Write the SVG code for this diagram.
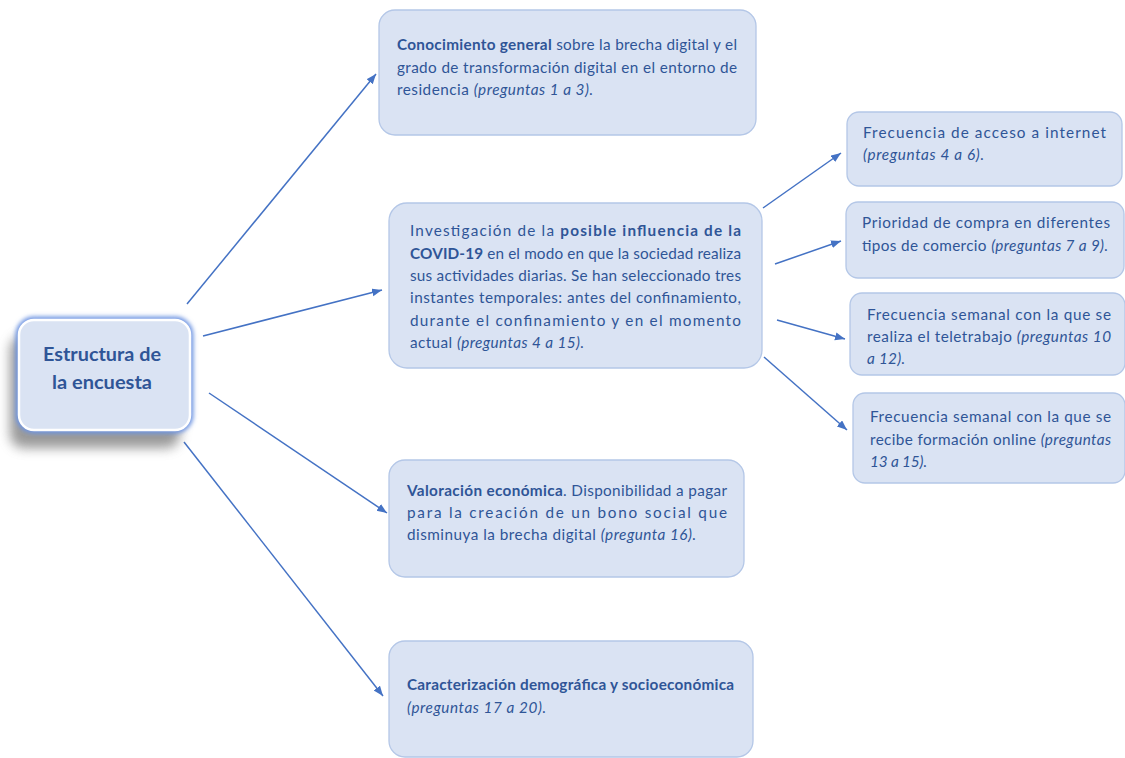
<svg xmlns="http://www.w3.org/2000/svg" width="1125" height="758" viewBox="0 0 1125 758">
<style>
.box{fill:#DAE3F3;stroke:#B4C7E7;stroke-width:1.3}
.t{font-family:Lato,"Liberation Sans",sans-serif;font-size:15.3px;fill:#2F5597}
.b{font-weight:bold}
.i{font-style:italic}
.ct{font-family:Lato,"Liberation Sans",sans-serif;font-size:18px;font-weight:bold;fill:#2F5597;text-anchor:middle}
.c{stroke:#4472C4;stroke-width:1.5;fill:none;marker-end:url(#ah)}
</style>
<defs>
<marker id="ah" markerUnits="userSpaceOnUse" markerWidth="11" markerHeight="9" refX="10" refY="4" orient="auto" viewBox="0 0 11 9">
<path d="M0,0 L10,4 L0,8 z" fill="#4472C4"/>
</marker>
<filter id="sh" x="-30%" y="-30%" width="160%" height="170%"><feGaussianBlur stdDeviation="6"/></filter>
<filter id="gl" x="-20%" y="-20%" width="140%" height="140%"><feGaussianBlur stdDeviation="2.2"/></filter>
</defs>
<rect width="1125" height="758" fill="#fff"/>
<g id="connectors">
<line class="c" x1="187" y1="304" x2="376" y2="74"/>
<line class="c" x1="203" y1="336" x2="382" y2="290"/>
<line class="c" x1="209" y1="393" x2="387" y2="513"/>
<line class="c" x1="184" y1="442" x2="383" y2="696"/>
<line class="c" x1="763" y1="208" x2="841" y2="153"/>
<line class="c" x1="775" y1="264" x2="841" y2="241"/>
<line class="c" x1="777" y1="320" x2="845" y2="339"/>
<line class="c" x1="764" y1="357" x2="847" y2="430"/>
</g>
<g id="center">
<rect x="10" y="336" width="170" height="112" rx="14" fill="#6e6e6e" opacity="0.7" filter="url(#sh)"/>
<rect x="19" y="320" width="171" height="110" rx="15" fill="none" stroke="#6F95E2" stroke-width="7" filter="url(#gl)"/>
<rect x="19" y="320" width="171" height="110" rx="15" fill="#DAE3F3" stroke="#fff" stroke-width="2.5"/>
<text class="ct" x="102" y="361" textLength="118" lengthAdjust="spacingAndGlyphs">Estructura de</text>
<text class="ct" x="102" y="389" textLength="100" lengthAdjust="spacingAndGlyphs">la encuesta</text>
</g>
<g id="n1">
<rect class="box" x="379" y="10" width="377" height="125" rx="16"/>
<text class="t" x="397" y="50" textLength="340"><tspan class="b">Conocimiento general</tspan> sobre la brecha digital y el</text>
<text class="t" x="397" y="72.5" textLength="340">grado de transformación digital en el entorno de</text>
<text class="t" x="397" y="95" textLength="196">residencia <tspan class="i">(preguntas 1 a 3).</tspan></text>
</g>
<g id="n2">
<rect class="box" x="389" y="203" width="373" height="165" rx="18"/>
<text class="t" x="410" y="236" textLength="331">Investigación de la <tspan class="b">posible influencia de la</tspan></text>
<text class="t" x="410" y="258.5" textLength="331"><tspan class="b">COVID-19</tspan> en el modo en que la sociedad realiza</text>
<text class="t" x="410" y="281" textLength="331">sus actividades diarias.  Se han seleccionado tres</text>
<text class="t" x="410" y="303" textLength="331">instantes temporales: antes del confinamiento,</text>
<text class="t" x="410" y="325.5" textLength="331">durante el confinamiento y en el momento</text>
<text class="t" x="410" y="348" textLength="174">actual <tspan class="i">(preguntas 4 a 15).</tspan></text>
</g>
<g id="n3">
<rect class="box" x="847" y="112" width="275" height="74" rx="12"/>
<text class="t" x="863" y="138" textLength="243">Frecuencia de acceso a internet</text>
<text class="t i" x="863" y="160" textLength="121">(preguntas 4 a 6).</text>
</g>
<g id="n4">
<rect class="box" x="846" y="202" width="278" height="76" rx="12"/>
<text class="t" x="862" y="228" textLength="248">Prioridad de compra en diferentes</text>
<text class="t" x="862" y="250.5" textLength="246">tipos de comercio <tspan class="i">(preguntas 7 a 9).</tspan></text>
</g>
<g id="n5">
<rect class="box" x="850" y="293" width="275" height="82" rx="12"/>
<text class="t" x="867" y="319.5" textLength="244">Frecuencia semanal con la que se</text>
<text class="t" x="867" y="342" textLength="244">realiza el teletrabajo <tspan class="i">(preguntas 10</tspan></text>
<text class="t i" x="867" y="364" textLength="38">a 12).</text>
</g>
<g id="n6">
<rect class="box" x="853" y="393" width="272" height="90" rx="12"/>
<text class="t" x="870" y="422" textLength="241">Frecuencia semanal con la que se</text>
<text class="t" x="870" y="444.5" textLength="241">recibe formación online <tspan class="i">(preguntas</tspan></text>
<text class="t i" x="870" y="467" textLength="57">13 a 15).</text>
</g>
<g id="n7">
<rect class="box" x="389" y="460" width="355" height="117" rx="16"/>
<text class="t" x="407" y="496" textLength="320"><tspan class="b">Valoración económica</tspan>. Disponibilidad a pagar</text>
<text class="t" x="407" y="518" textLength="320">para la creación de un bono social que</text>
<text class="t" x="407" y="540" textLength="289">disminuya la brecha digital <tspan class="i">(pregunta 16).</tspan></text>
</g>
<g id="n8">
<rect class="box" x="389" y="641" width="364" height="116" rx="16"/>
<text class="t b" x="407" y="689.5" textLength="327">Caracterización demográfica y socioeconómica</text>
<text class="t i" x="407" y="712.5" textLength="139">(preguntas 17 a 20).</text>
</g>
</svg>
